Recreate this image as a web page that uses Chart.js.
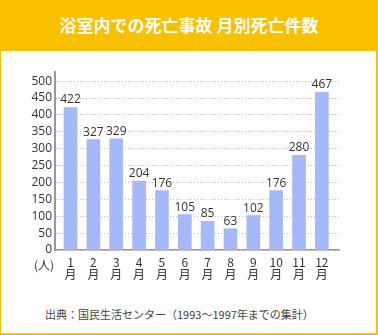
<!DOCTYPE html>
<html>
<head>
<meta charset="utf-8">
<script src="https://cdn.jsdelivr.net/npm/chart.js@4"></script>
<style>
  body { margin: 0; background: #fff; }
  #wrap { position: relative; width: 378px; height: 335px; background: #f9c000; overflow: hidden; }
  #title { position: absolute; left: 0; top: 0; width: 378px; height: 51px; text-align: center;
    color: #fff; font: bold 17px "Noto Sans CJK JP", sans-serif; line-height: 49px; }
  #panel { position: absolute; left: 1px; top: 51px; width: 375px; height: 282px; background: #fff; }
  #chartBox { position: absolute; left: 0; top: 51px; width: 378px; height: 240px; }
  #unit { position: absolute; left: 34px; top: 256px; font: 12px "Noto Sans CJK JP", sans-serif; color: #333; }
  #source { position: absolute; left: 45px; top: 306px; font: 11px "Noto Sans CJK JP", sans-serif; color: #444; }
</style>
</head>
<body>
<div id="wrap">
  <div id="title">浴室内での死亡事故 月別死亡件数</div>
  <div id="panel"></div>
  <div id="chartBox"><canvas id="chart" width="378" height="240"></canvas></div>
  <div id="unit">(人)</div>
  <div id="source">出典：国民生活センター（1993〜1997年までの集計）</div>
</div>
<script>
// 月と死亡件数
const months = [1, 2, 3, 4, 5, 6, 7, 8, 9, 10, 11, 12]
const deaths = [422, 327, 329, 204, 176, 105, 85, 63, 102, 176, 280, 467]
const monthSuffix = '月'

// 棒の上に数値を書く
const valueLabels = {
    id: 'valueLabels',
    afterDatasetsDraw(chart) {
        const ctx = chart.ctx
        const meta = chart.getDatasetMeta(0)
        ctx.save()
        ctx.font = '12px "Open Sans", sans-serif'
        ctx.fillStyle = '#333'
        ctx.textAlign = 'center'
        ctx.textBaseline = 'alphabetic'
        meta.data.forEach((bar, i) => {
            ctx.fillText(String(deaths[i]), bar.x, bar.y - 4)
        })
        ctx.restore()
    }
}

new Chart(document.getElementById('chart'), {
    type: 'bar',
    data: {
        datasets: [{
            data: months.map((m, i) => ({ x: m, y: deaths[i] })),
            backgroundColor: '#a5b8fa',
            borderWidth: 0,
            barThickness: 13
        }]
    },
    options: {
        responsive: false,
        animation: false,
        layout: { padding: { left: 0, right: 39, top: 21, bottom: 0 } },
        plugins: { legend: { display: false }, tooltip: { enabled: false } },
        scales: {
            x: {
                type: 'linear',
                offset: false,
                min: 0.32,
                max: 12.75,
                grid: { display: false, offset: false },
                border: { display: true, color: '#999', width: 1.5 },
                ticks: {
                    stepSize: 1,
                    includeBounds: false,
                    autoSkip: false,
                    maxRotation: 0,
                    padding: -1,
                    color: '#333',
                    font: { family: '"Noto Sans CJK JP", sans-serif', size: 12, lineHeight: 0.95 },
                    callback: v => [String(v), monthSuffix]
                },
                afterFit: s => { s.height = 41 }
            },
            y: {
                min: 0,
                max: 527,
                grid: { color: '#bbb', lineWidth: 1, drawTicks: false },
                border: { display: true, color: '#999', width: 2, dash: [1, 2] },
                ticks: {
                    stepSize: 50,
                    includeBounds: false,
                    padding: 3,
                    color: '#333',
                    font: { family: '"Open Sans", sans-serif', size: 12 }
                },
                afterFit: s => { s.width = 55 }
            }
        }
    },
    plugins: [valueLabels]
})
</script>
</body>
</html>
